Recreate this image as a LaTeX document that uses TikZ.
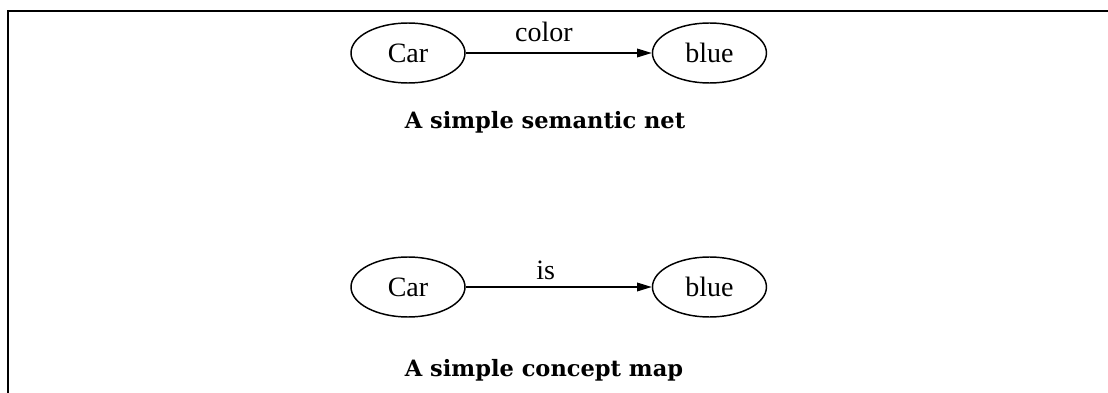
\documentclass[tikz,border=0pt]{standalone}
\usepackage{fontspec}
\setmainfont{Liberation Serif}
\newfontfamily\capfont{DejaVu Serif}
\usepackage{tikz}
\usetikzlibrary{shapes,arrows,arrows.meta,calc,positioning}

\tikzset{concept/.style={ellipse,draw,line width=1.1pt,inner sep=0pt,
                         minimum width=85.5pt,minimum height=45pt,
                         font=\fontsize{21}{25}\selectfont},
         caption/.style={anchor=base,font=\capfont\bfseries\fontsize{16.9}{20}\selectfont}}

\begin{document}
\begin{tikzpicture}[->,>={Triangle[length=11pt,width=6.5pt]},auto,node distance=139.5pt,
                    line width=0.9pt]

 		 \useasboundingbox (0,0) rectangle (831pt,294.75pt);
 		 \draw[-,line width=1.5pt] (6pt,0) |- (831pt,286.5pt);

 		 \node[concept] (car1) at (306pt,255pt) {Car};
 		 \node[concept] (blue1) [right=of car1] {blue};
 		 \node[caption] (cap1) at (408.75pt,198pt) {A simple semantic net};

 		 \node[concept] (car2) at (306pt,79.5pt) {Car};
 		 \node[concept] (blue2) [right=of car2] {blue};
 		 \node[caption] (cap2) at (408pt,12pt) {A simple concept map};

		\begin{scope}[every node/.style={font=\fontsize{21}{25}\selectfont,inner sep=2pt}]
		  \path	 (car1) 	edge node[pos=0.42,above=6pt]{color} (blue1)
				 (car2)	edge node[pos=0.43,above=3pt]{is} (blue2);
		\end{scope}
	\end{tikzpicture}
\end{document}
